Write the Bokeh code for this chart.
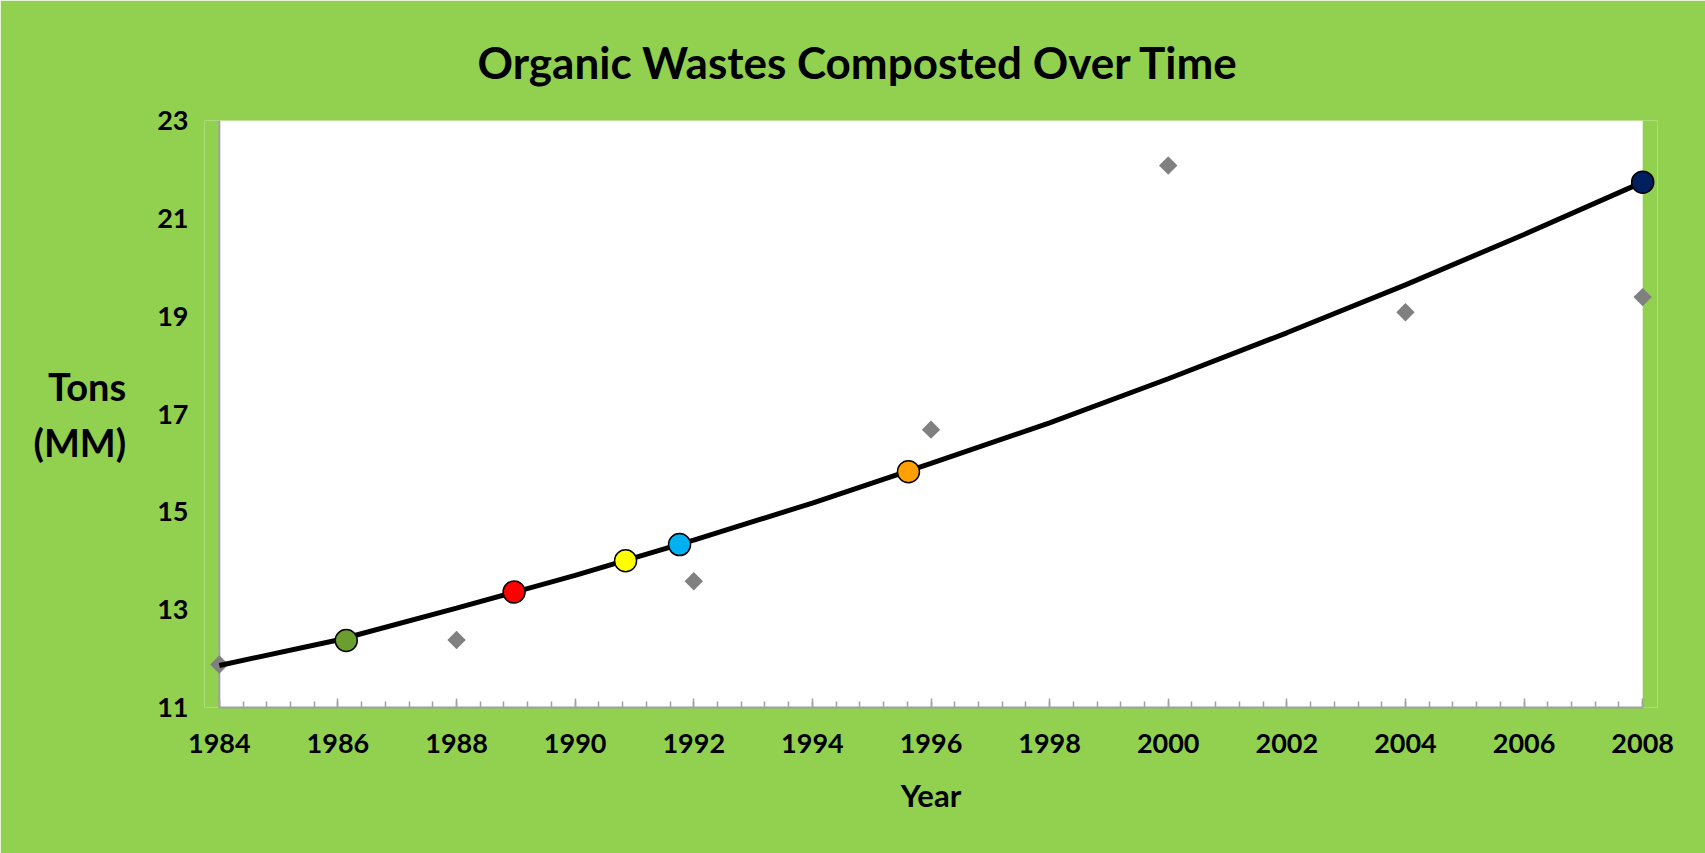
from bokeh.plotting import figure
from bokeh.models import Range1d, SingleIntervalTicker, FixedTicker, ColumnDataSource
from bokeh.embed import file_html
from bokeh.resources import INLINE
import math

# ---------------- data ----------------
title_text = "Organic Wastes Composted Over Time"
x_label = "Year"
y_label = "Tons\n(MM)"

actual_years = [1984, 1988, 1992, 1996, 2000, 2004, 2008]
actual_tons = [11.88, 12.38, 13.58, 16.68, 22.08, 19.08, 19.39]

trend_years = [1984, 1986, 1988, 1990, 1992, 1994, 1996, 1998, 2000, 2002, 2004, 2006, 2008]
trend_tons = [11.86, 12.38, 13.03, 13.70, 14.42, 15.18, 15.99, 16.82, 17.72, 18.66, 19.64, 20.67, 21.74]

event_years = [1986.14, 1988.97, 1990.85, 1991.76, 1995.62, 2008]
event_tons = [12.37, 13.36, 14.00, 14.33, 15.82, 21.74]
event_colors = ["#6A9E2E", "#FF0000", "#FFFF00", "#00B0F0", "#FFA000", "#002060"]

x_start, x_end = 1984, 2008
y_start, y_end = 11, 23
y_ticks = [11, 13, 15, 17, 19, 21, 23]

# ---------------- style ----------------
GREEN = "#92D050"
FONT = "Lato"
x_pad = 0.25  # room so edge markers are not clipped

p = figure(
    width=1705, height=853,
    output_backend="svg", toolbar_location=None,
    x_range=Range1d(x_start - x_pad, x_end + x_pad),
    y_range=Range1d(y_start, y_end),
    min_border_left=204, min_border_right=48,
    min_border_top=120, min_border_bottom=146,
)
p.border_fill_color = GREEN
p.background_fill_color = GREEN
p.outline_line_color = None
p.xgrid.grid_line_color = None
p.ygrid.grid_line_color = None

# title
p.title.text = title_text
p.title.align = "left"
p.title.offset = 273
p.title.standoff = 66
p.title.text_font = FONT
p.title.text_font_style = "bold"
p.title.text_font_size = "44px"
p.title.text_color = "black"

# white plot area
p.quad(left=[x_start], right=[x_end], bottom=[y_start], top=[y_end],
       fill_color="white", line_color=None)
# left axis line
p.segment(x0=[x_start], y0=[y_start], x1=[x_start], y1=[y_end],
          line_color="#A0A0A0", line_width=2)

# x axis
xa = p.xaxis[0]
xa.ticker = SingleIntervalTicker(interval=2, num_minor_ticks=5)
xa.bounds = (x_start, x_end)
xa.axis_line_color = "#A0A0A0"
xa.axis_line_width = 2
xa.major_tick_in = 9
xa.major_tick_out = 0
xa.minor_tick_in = 6
xa.minor_tick_out = 0
xa.major_tick_line_color = "#A0A0A0"
xa.minor_tick_line_color = "#A0A0A0"
xa.major_tick_line_width = 1.5
xa.minor_tick_line_width = 1.5
xa.major_label_text_font = FONT
xa.major_label_text_font_style = "bold"
xa.major_label_text_font_size = "27px"
xa.major_label_text_color = "black"
xa.major_label_standoff = 26
xa.axis_label = x_label
xa.axis_label_text_font = FONT
xa.axis_label_text_font_style = "bold"
xa.axis_label_text_font_size = "31px"
xa.axis_label_text_color = "black"
xa.axis_label_standoff = 20

# y axis
ya = p.yaxis[0]
ya.ticker = FixedTicker(ticks=y_ticks)
ya.axis_line_color = None
ya.major_tick_line_color = None
ya.minor_tick_line_color = None
ya.major_tick_in = 0
ya.major_tick_out = 0
ya.major_label_text_font = FONT
ya.major_label_text_font_style = "bold"
ya.major_label_text_font_size = "27px"
ya.major_label_text_color = "black"
ya.major_label_standoff = 16
ya.axis_label = y_label
ya.axis_label_orientation = "horizontal"
ya.axis_label_text_font = FONT
ya.axis_label_text_font_style = "bold"
ya.axis_label_text_font_size = "38px"
ya.axis_label_text_color = "black"
ya.axis_label_text_line_height = 1.2
ya.axis_label_standoff = 28

# data marks
p.scatter(actual_years, actual_tons, marker="square", angle=math.pi / 4,
          size=13, fill_color="#808080", line_color=None)
p.line(trend_years, trend_tons, line_color="black", line_width=5)
src = ColumnDataSource(dict(x=event_years, y=event_tons, c=event_colors))
p.scatter("x", "y", source=src, marker="circle", size=22,
          fill_color="c", line_color="black", line_width=1.5)

open("out.html", "w").write(file_html(p, INLINE))
